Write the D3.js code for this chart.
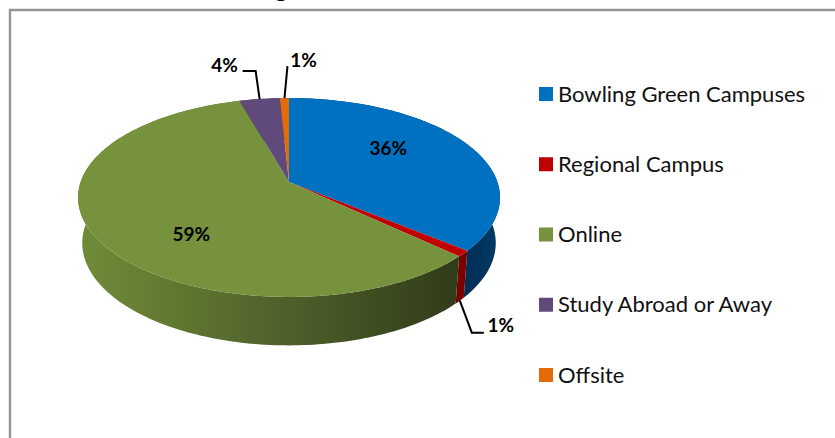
<!DOCTYPE html>
<html>
<head>
<meta charset="utf-8">
<script src="https://cdn.jsdelivr.net/npm/d3@7"></script>
<style>
  html, body { margin: 0; padding: 0; background: #fff; overflow: hidden; }
  text { font-family: Lato, "Open Sans", sans-serif; }
</style>
</head>
<body>
<div id="myChart"></div>
<script>
// Chart data
let categories = ["Bowling Green Campuses", "Regional Campus", "Online", "Study Abroad or Away", "Offsite"];
let shares = [36, 1, 58.6, 3.6, 0.8];

let topColors = ["#0070C0", "#C00000", "#76923C", "#604A7B", "#E36C09"];
// wall shading, left to right
let wallColors = [
  ["#002f55", "#00325a", "#003c69"],
  ["#6a0000", "#7a0000", "#7a0000"],
  ["#708c38", "#4d5f2a", "#2f3a17"],
  ["#3d2f50", "#3d2f50", "#3d2f50"],
  ["#8f4406", "#8f4406", "#8f4406"],
];

let width = 835,
  height = 438;

let svg = d3
  .select("#myChart")
  .append("svg")
  .attr("width", width)
  .attr("height", height);

// Pie geometry: a tilted disc seen in perspective
let apex = { x: 289, y: 182 },
  radiusX = 208.4,
  radiusY = 97,
  perspective = 0.156,
  wallDrop = 45,
  wallStretch = 1.03,
  wallShrink = 0.98;

// Disc point at angle a (clockwise from 12 o'clock) and fraction r of the radius
function project(a, r = 1) {
  let forward = -Math.cos(a) * r;
  let w = 1 - perspective * forward;
  return {
    x: apex.x + (radiusX * Math.sin(a) * r) / w,
    y: apex.y + (radiusY * forward) / w,
  };
}

// Same point dropped to the bottom edge of the wall
function projectBottom(a) {
  let p = project(a);
  return {
    x: apex.x + (p.x - apex.x) * wallShrink,
    y: apex.y + wallDrop + (p.y - apex.y) * wallStretch,
  };
}

let pie = d3.pie().sort(null).value((d) => d.value);
let arcs = pie(categories.map((name, i) => ({ name: name, value: shares[i] })));

function rimAngles(d) {
  let steps = Math.max(4, Math.ceil((d.endAngle - d.startAngle) / 0.02));
  return d3.range(steps + 1).map((i) => d.startAngle + ((d.endAngle - d.startAngle) * i) / steps);
}

let line = d3.line().x((p) => p.x).y((p) => p.y);

// Horizontal shading for the walls
let defs = svg.append("defs");
let wallX = d3.scaleLinear().domain([0, 1]).range([80, 500]);
wallColors.forEach((stops, i) => {
  let gradient = defs
    .append("linearGradient")
    .attr("id", `wall${i}`)
    .attr("gradientUnits", "userSpaceOnUse")
    .attr("x1", wallX(0))
    .attr("x2", wallX(1))
    .attr("y1", 0)
    .attr("y2", 0);
  let offsets = i === 0 ? [0.9, 0.95, 1] : [0, 0.5, 0.92];
  stops.forEach((c, j) => {
    gradient.append("stop").attr("offset", offsets[j]).attr("stop-color", c);
  });
});

// Frame, only the top and left edges are in the picture
svg
  .append("path")
  .attr("d", `M835,10H10V${height}`)
  .attr("fill", "none")
  .attr("stroke", "#959595")
  .attr("stroke-width", 2.4);

// Title is cut off by the top of the picture, only this descender shows
svg
  .append("text")
  .attr("x", 281)
  .attr("y", -3)
  .attr("text-anchor", "middle")
  .style("font-size", "24px")
  .style("font-weight", "bold")
  .text("g");

// Walls first, the top face hides the back of them
svg
  .selectAll(".wall")
  .data(arcs)
  .enter()
  .append("path")
  .attr("class", "wall")
  .attr("d", (d) => {
    let angles = rimAngles(d);
    let pts = angles.map((a) => project(a)).concat(angles.slice().reverse().map(projectBottom));
    return line(pts) + "Z";
  })
  .attr("fill", (d, i) => `url(#wall${i})`);

// Top face
svg
  .selectAll(".slice")
  .data(arcs)
  .enter()
  .append("path")
  .attr("class", "slice")
  .attr("d", (d) => line([apex].concat(rimAngles(d).map((a) => project(a)))) + "Z")
  .attr("fill", (d, i) => topColors[i]);

let percent = d3.format(".0%");
let total = d3.sum(shares);
let mid = (d) => (d.startAngle + d.endAngle) / 2;

// Data labels: where each one sits relative to its slice
let labelSetup = [
  { r: 0.5, dx: 8, dy: -14 },
  { from: "bottom", elbow: [12, 32], end: [24, 32], text: [41, 25] },
  { r: 0.5, dx: -5, dy: 26 },
  { from: "top", elbow: [-4, -28], end: [-17, -28], text: [-35, -34] },
  { from: "top", elbow: [3, -32], text: [19, -38] },
];

arcs.forEach((d, i) => {
  let s = labelSetup[i];
  let tx, ty;
  if (s.from) {
    let p = s.from === "top" ? project(mid(d)) : projectBottom(mid(d));
    let pts = [p, { x: p.x + s.elbow[0], y: p.y + s.elbow[1] }];
    if (s.end) pts.push({ x: p.x + s.end[0], y: p.y + s.end[1] });
    svg
      .append("path")
      .attr("d", line(pts))
      .attr("fill", "none")
      .attr("stroke", "#000")
      .attr("stroke-width", 2);
    tx = p.x + s.text[0];
    ty = p.y + s.text[1];
  } else {
    let p = project(mid(d), s.r);
    tx = p.x + s.dx;
    ty = p.y + s.dy;
  }
  svg
    .append("text")
    .attr("x", tx)
    .attr("y", ty)
    .attr("dy", "0.35em")
    .attr("text-anchor", "middle")
    .style("font-size", "19px")
    .style("font-weight", "bold")
    .text(percent(d.value / total));
});

// Legend
let legendY = d3.scalePoint().domain(categories).range([94, 375]);

let legend = svg
  .selectAll(".legend")
  .data(categories)
  .enter()
  .append("g")
  .attr("class", "legend")
  .attr("transform", (d) => `translate(539,${legendY(d)})`);

legend
  .append("rect")
  .attr("x", 0)
  .attr("y", -7)
  .attr("width", 14)
  .attr("height", 14)
  .attr("fill", (d, i) => topColors[i]);

legend
  .append("text")
  .attr("x", 19)
  .attr("y", 0)
  .attr("dy", "0.35em")
  .attr("fill", "#111")
  .style("font-size", "22px")
  .text((d) => d);
</script>
</body>
</html>
